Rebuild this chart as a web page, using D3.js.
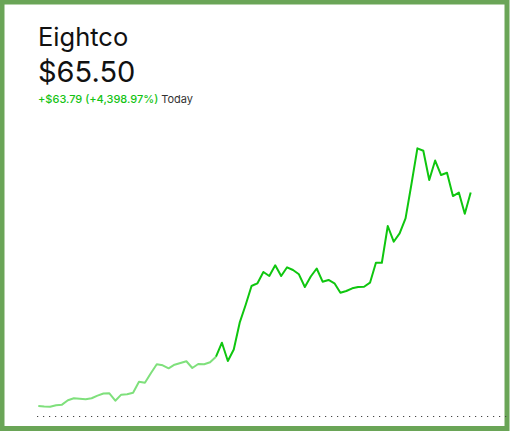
<!DOCTYPE html>
<html>
<head>
<meta charset="utf-8">
<script src="https://cdn.jsdelivr.net/npm/d3@7"></script>
<style>
  html, body { margin: 0; padding: 0; background: #fff; }
  #chart { width: 512px; height: 434px; }
</style>
</head>
<body>
<div id="chart"></div>
<script>
// parameters
var width = 512;
var height = 434;

var stockName = "Eightco";
var lastPrice = "$65.50";
var changeText = "+$63.79 (+4,398.97%)";
var periodText = "Today";

// price points (one every step of the day)
var prices = [1.71, 1.56, 1.50, 1.95, 2.10, 3.41, 4.01, 3.89, 3.71, 4.01,
  4.79, 5.44, 5.50, 3.29, 5.09, 5.21, 5.68, 8.97, 8.67, 11.48,
  14.18, 13.87, 12.97, 14.05, 14.56, 15.07, 13.06, 14.26, 14.17, 14.77,
  16.44, 20.62, 15.16, 18.59, 26.60, 31.89, 37.56, 38.37, 41.75, 40.55,
  43.75, 40.55, 43.15, 42.34, 41.06, 37.26, 40.40, 42.79, 38.85, 39.36,
  38.37, 35.56, 36.07, 36.88, 37.26, 37.35, 38.55, 44.52, 44.52, 55.49,
  50.80, 53.31, 57.79, 68.04, 78.71, 77.99, 69.24, 75.06, 70.73, 71.42,
  64.45, 65.50, 59.16, 65.50];
// index where the faded (earlier) part of the line ends
var fadeUntil = 30;

var svg = d3.select("#chart")
  .append("svg")
  .attr("width", width)
  .attr("height", height);

// green frame
svg.append("rect")
  .attr("x", 2).attr("y", 2)
  .attr("width", width - 7).attr("height", height - 7.5)
  .attr("fill", "#fff")
  .attr("stroke", "#6aa557")
  .attr("stroke-width", 5);

var x = d3.scaleLinear()
  .domain([0, prices.length - 1])
  .range([38.3, 470.7]);

var y = d3.scaleLinear()
  .domain([0, 80])
  .range([411.7, 144]);

var baseY = 416.5;

// dotted baseline
svg.append("line")
  .attr("x1", 37).attr("x2", 507)
  .attr("y1", baseY).attr("y2", baseY)
  .attr("stroke", "#444")
  .attr("stroke-width", 1.2)
  .attr("stroke-dasharray", "1.2,4.8");

var line = d3.line()
  .x(function(d, i) { return x(d.i); })
  .y(function(d) { return y(d.p); });

var pts = prices.map(function(p, i) { return {i: i, p: p}; });

svg.append("path")
  .datum(pts.slice(0, fadeUntil + 1))
  .attr("d", line)
  .attr("fill", "none")
  .attr("stroke", "#7fe07c")
  .attr("stroke-width", 2)
  .attr("stroke-linejoin", "round");

svg.append("path")
  .datum(pts.slice(fadeUntil))
  .attr("d", line)
  .attr("fill", "none")
  .attr("stroke", "#0fc60f")
  .attr("stroke-width", 2)
  .attr("stroke-linejoin", "round");

// header texts
var font = "Inter, 'Noto Sans', sans-serif";

svg.append("text")
  .attr("x", 38).attr("y", 45.5)
  .style("font-family", font)
  .style("font-size", "25.5px")
  .attr("fill", "#111")
  .text(stockName);

svg.append("text")
  .attr("x", 38).attr("y", 81.5)
  .style("font-family", font)
  .style("font-size", "29px")
  .attr("fill", "#111")
  .text(lastPrice);

var sub = svg.append("text")
  .attr("x", 38).attr("y", 103)
  .style("font-family", font)
  .style("font-size", "11px");
sub.append("tspan")
  .attr("fill", "#13c313")
  .style("font-weight", 500)
  .text(changeText + " ");
sub.append("tspan")
  .attr("fill", "#333")
  .text(periodText);
</script>
</body>
</html>
